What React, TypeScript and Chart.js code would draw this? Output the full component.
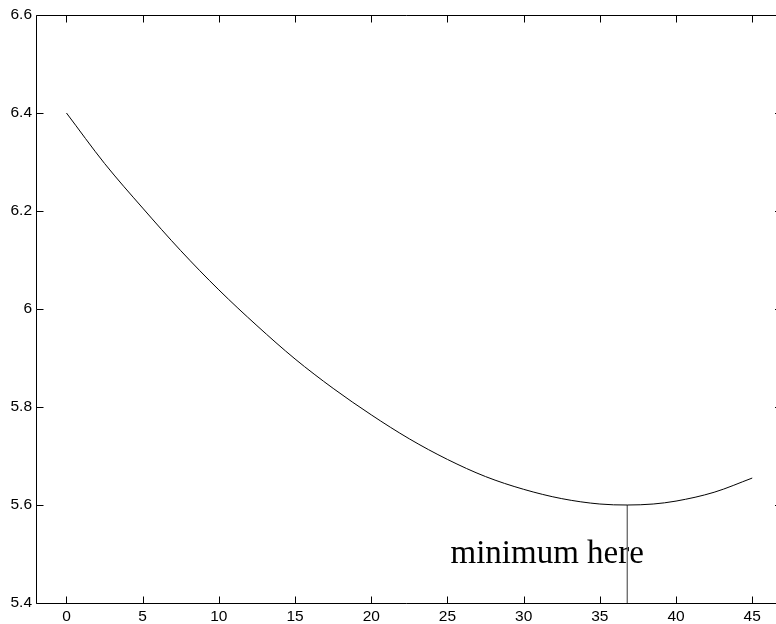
import React, { useEffect, useRef } from "react";
import { Chart, registerables } from "chart.js";

Chart.register(...registerables);

// Curve samples
const xValues = [0, 2.5, 5, 7.5, 10, 12.5, 15, 17.5, 20, 22.5, 25, 27.5, 30, 32.5, 35, 36.8, 38.5, 40, 42.5, 45];
const yValues = [6.4, 6.297, 6.206, 6.119, 6.039, 5.966, 5.898, 5.838, 5.784, 5.735, 5.693, 5.658, 5.632, 5.613, 5.602, 5.6, 5.602, 5.608, 5.626, 5.655];

// Marker at the minimum
const markerX = [36.8, 36.8];
const markerY = [5.6, 5.4];
const annotationText = "minimum here";
const annotationX = 25.2;
const annotationY = 5.481;

// Axes
const xTicks = [0, 5, 10, 15, 20, 25, 30, 35, 40, 45];
const yTicks = [5.4, 5.6, 5.8, 6.0, 6.2, 6.4, 6.6];
const xMin = -2;
const xMax = 46.56;
const yMin = 5.4;
const yMax = 6.6;

const fmt = (v: number) => String(Number(v.toFixed(1)));

const boxPlugin = {
  id: "matlabBox",
  beforeDatasetsDraw(chart: any) {
    const { ctx, scales } = chart;
    const xs = scales.x;
    const ys = scales.y;
    ctx.save();
    ctx.fillStyle = "#000";
    ctx.font = "33px 'Liberation Serif', 'Times New Roman', serif";
    ctx.textAlign = "left";
    ctx.textBaseline = "alphabetic";
    ctx.fillText(annotationText, xs.getPixelForValue(annotationX), ys.getPixelForValue(annotationY));
    ctx.restore();
  },
  afterDraw(chart: any) {
    const { ctx, chartArea, scales } = chart;
    const xs = scales.x;
    const ys = scales.y;
    const L = chartArea.left + 0.5;
    const T = chartArea.top + 0.5;
    const B = chartArea.bottom + 0.5;
    const R = chartArea.right;
    const len = 7;
    ctx.save();
    ctx.strokeStyle = "#000";
    ctx.lineWidth = 1;
    ctx.beginPath();
    ctx.moveTo(L, B);
    ctx.lineTo(L, T);
    ctx.lineTo(R + 5, T);
    ctx.moveTo(L, B);
    ctx.lineTo(R + 5, B);
    for (const t of xTicks) {
      const px = Math.round(xs.getPixelForValue(t)) + 0.5;
      ctx.moveTo(px, B);
      ctx.lineTo(px, B - len);
      ctx.moveTo(px, T);
      ctx.lineTo(px, T + len);
    }
    for (const t of yTicks) {
      const py = Math.round(ys.getPixelForValue(t)) + 0.5;
      ctx.moveTo(L, py);
      ctx.lineTo(L + len, py);
      ctx.moveTo(R - 1, py);
      ctx.lineTo(R, py);
    }
    ctx.stroke();
    ctx.restore();
  },
};

export default function App() {
  const ref = useRef<HTMLCanvasElement | null>(null);

  useEffect(() => {
    if (!ref.current) return;
    const chart = new Chart(ref.current, {
      type: "line",
      data: {
        datasets: [
          {
            data: xValues.map((x, i) => ({ x, y: yValues[i] })),
            borderColor: "#000",
            borderWidth: 1,
            pointRadius: 0,
            cubicInterpolationMode: "monotone",
            fill: false,
          },
          {
            data: markerX.map((x, i) => ({ x, y: markerY[i] })),
            borderColor: "#666",
            borderWidth: 1.3,
            pointRadius: 0,
            fill: false,
          },
        ],
      },
      options: {
        animation: false,
        responsive: false,
        devicePixelRatio: 1,
        layout: { padding: { top: 15, left: 0, right: 0, bottom: 0 } },
        plugins: { legend: { display: false }, tooltip: { enabled: false } },
        scales: {
          x: {
            type: "linear",
            min: xMin,
            max: xMax,
            grid: { display: false, drawTicks: false },
            border: { display: false },
            afterBuildTicks: (s: any) => {
              s.ticks = xTicks.map((v) => ({ value: v }));
            },
            afterFit: (s: any) => {
              s.height = 21;
            },
            ticks: {
              autoSkip: false,
              maxRotation: 0,
              padding: 4,
              color: "#000",
              font: { family: "'Liberation Sans', Arial, sans-serif", size: 15.5 },
              callback: (v: any) => fmt(Number(v)),
            },
          },
          y: {
            type: "linear",
            min: yMin,
            max: yMax,
            grid: { display: false, drawTicks: false },
            border: { display: false },
            afterBuildTicks: (s: any) => {
              s.ticks = yTicks.map((v) => ({ value: v }));
            },
            afterFit: (s: any) => {
              s.width = 36;
            },
            ticks: {
              autoSkip: false,
              padding: 4,
              color: "#000",
              font: { family: "'Liberation Sans', Arial, sans-serif", size: 15.5 },
              callback: (v: any) => fmt(Number(v)),
            },
          },
        },
      },
      plugins: [boxPlugin],
    } as any);
    return () => chart.destroy();
  }, []);

  return (
    <div style={{ position: "fixed", left: 0, top: 0, width: 776, height: 624, background: "#fff" }}>
      <canvas ref={ref} width={776} height={624} />
    </div>
  );
}
